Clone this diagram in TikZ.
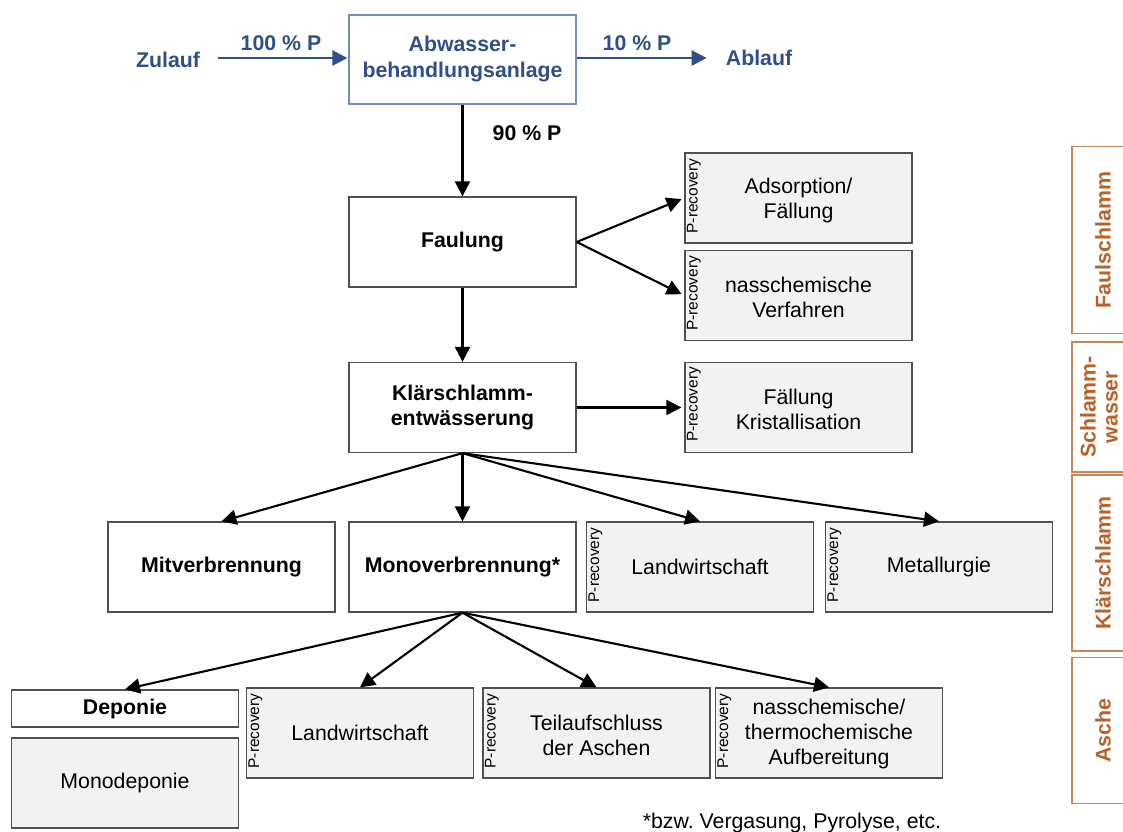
\documentclass[tikz,border=0pt]{standalone}
\usepackage{fontspec}
\setmainfont{Liberation Sans}
\usetikzlibrary{arrows.meta,positioning,calc}
\definecolor{bluetxt}{HTML}{2F5085}
\definecolor{blueframe}{HTML}{6F8FBF}
\definecolor{brownc}{HTML}{B8622A}
\definecolor{brownframe}{HTML}{C4875A}
\definecolor{boxgray}{HTML}{F2F2F2}
\definecolor{frame}{HTML}{505050}
\frenchspacing
\begin{document}
\begin{tikzpicture}[x=1pt,y=-1pt,
  every node/.style={font=\fontsize{21.3}{25}\selectfont, align=center, inner sep=3pt},
  wbox/.style={draw=frame, line width=1.3pt, fill=white, minimum width=227pt, minimum height=90pt, font=\fontsize{21.3}{25}\selectfont\bfseries},
  gbox/.style={draw=frame, line width=1.3pt, fill=boxgray, minimum width=227pt, minimum height=90pt},
  prec/.style={rotate=90, font=\fontsize{15.5}{18}\selectfont, inner sep=0pt},
  sidebox/.style={draw=brownframe, line width=1.3pt, minimum width=64pt},
  sidetxt/.style={rotate=90, text=brownc, font=\fontsize{21.3}{24}\selectfont\bfseries},
  arr/.style={draw=black, line width=2.1pt, -{Triangle[length=15pt,width=15pt]}},
  barr/.style={draw=bluetxt, line width=2.5pt, -{Triangle[length=15pt,width=15pt]}},
  bluetext/.style={text=bluetxt, font=\fontsize{21.3}{26}\selectfont\bfseries}
]
\useasboundingbox (0,0) rectangle (1123,831);

% top
\node[draw=blueframe, line width=1.3pt, fill=white, minimum width=227pt, minimum height=89pt, bluetext] (abw) at (462.5,59.5) {Abwasser-\\behandlungsanlage};
\node[bluetext] (zul) at (168,60) {Zulauf};
\node[bluetext] (abl) at (759,58) {Ablauf};
\draw[barr, shorten <=15pt, shorten >=1pt] (zul.east |- abw.west) ++(0,-1.5) coordinate (z1) -- (z1 -| abw.west);
\draw[barr, shorten >=16pt] ($(abw.east)+(0,-1.5)$) coordinate (a1) -- (a1 -| abl.west);
\node[bluetext] (l100) at (281,43) {100 \% P};
\node[bluetext] (l10) at (637,43) {10 \% P};

% column
\node[wbox] (fau) at (462.5,242) {Faulung};
\node[wbox] (kla) at (462.5,407.5) {Klärschlamm-\\entwässerung};
\node[font=\fontsize{21.3}{25}\selectfont\bfseries] (l90) at (527,133) {90 \% P};
\draw[arr] (abw.south) -- (fau.north);
\draw[arr] (fau.south) -- (kla.north);

% Faulung products
\node[gbox] (ads) at (798.5,198) {};
\node at ($(ads.center)+(0,2)$) {Adsorption/\\Fällung};
\node[prec] at ($(ads.west)+(9.5,-2)$) {P-recovery};
\node[gbox] (nas) at (798.5,295.5) {};
\node at ($(nas.center)+(0,2)$) {nasschemische\\Verfahren};
\node[prec] at ($(nas.west)+(9.5,-2)$) {P-recovery};
\draw[arr, shorten >=3pt] (fau.east) -- (ads.west);
\draw[arr, shorten >=3pt] (fau.east) -- (nas.west);

% Klärschlammentwässerung product
\node[gbox] (fk) at (798.5,407.5) {};
\node at ($(fk.center)+(0,2)$) {Fällung\\Kristallisation};
\node[prec] at ($(fk.west)+(9.5,-3)$) {P-recovery};
\draw[arr, shorten >=3pt] (kla.east) -- (fk.west);

% row 4
\node[wbox] (mit) at (221.5,567) {Mitverbrennung};
\node[wbox] (mon) at (462.5,567) {Monoverbrennung*};
\node[gbox] (lw) at (700,567) {Landwirtschaft};
\node[prec] at ($(lw.west)+(9.5,-2)$) {P-recovery};
\node[gbox] (met) at (939,567) {Metallurgie};
\node[prec] at ($(met.west)+(9.5,-2)$) {P-recovery};
\draw[arr] (kla.south) -- (mit.north);
\draw[arr] (kla.south) -- (mon.north);
\draw[arr] (kla.south) -- (lw.north);
\draw[arr] (kla.south) -- (met.north);

% row 5
\node[wbox, minimum height=37pt] (dep) at (125,708.5) {Deponie};
\node[gbox] (mdep) at (125,783) {Monodeponie};
\node[gbox] (lw2) at (360,733) {Landwirtschaft};
\node[prec] at ($(lw2.west)+(9.5,-2)$) {P-recovery};
\node[gbox] (tei) at (596.5,733) {};
\node at ($(tei.center)+(0,2)$) {Teilaufschluss\\der Aschen};
\node[prec] at ($(tei.west)+(9.5,-2)$) {P-recovery};
\node[gbox] (nt) at (829,733) {};
\node at ($(nt.center)+(0,1)$) {nasschemische/\\thermochemische\\Aufbereitung};
\node[prec] at ($(nt.west)+(9.5,-2)$) {P-recovery};
\draw[arr] (mon.south) -- (dep.north);
\draw[arr] (mon.south) -- (lw2.north);
\draw[arr] (mon.south) -- (tei.north);
\draw[arr] (mon.south) -- (nt.north);

% footnote
\node (fn) at (792,823) {*bzw. Vergasung, Pyrolyse, etc.};

% side boxes
\node[sidebox, minimum height=187pt] (s1) at (1104,240) {};
\node[sidetxt] at (1103,240) {Faulschlamm};
\node[sidebox, minimum height=130pt] (s2) at (1104,407) {};
\node[sidetxt, font=\fontsize{21.3}{22}\selectfont\bfseries] at (1099,407) {Schlamm-\\wasser};
\node[sidebox, minimum height=176pt] (s3) at (1104,563) {};
\node[sidetxt] at (1103,563) {Klärschlamm};
\node[sidebox, minimum height=146pt] (s4) at (1104,730.5) {};
\node[sidetxt] at (1103,730.5) {Asche};
\end{tikzpicture}
\end{document}
